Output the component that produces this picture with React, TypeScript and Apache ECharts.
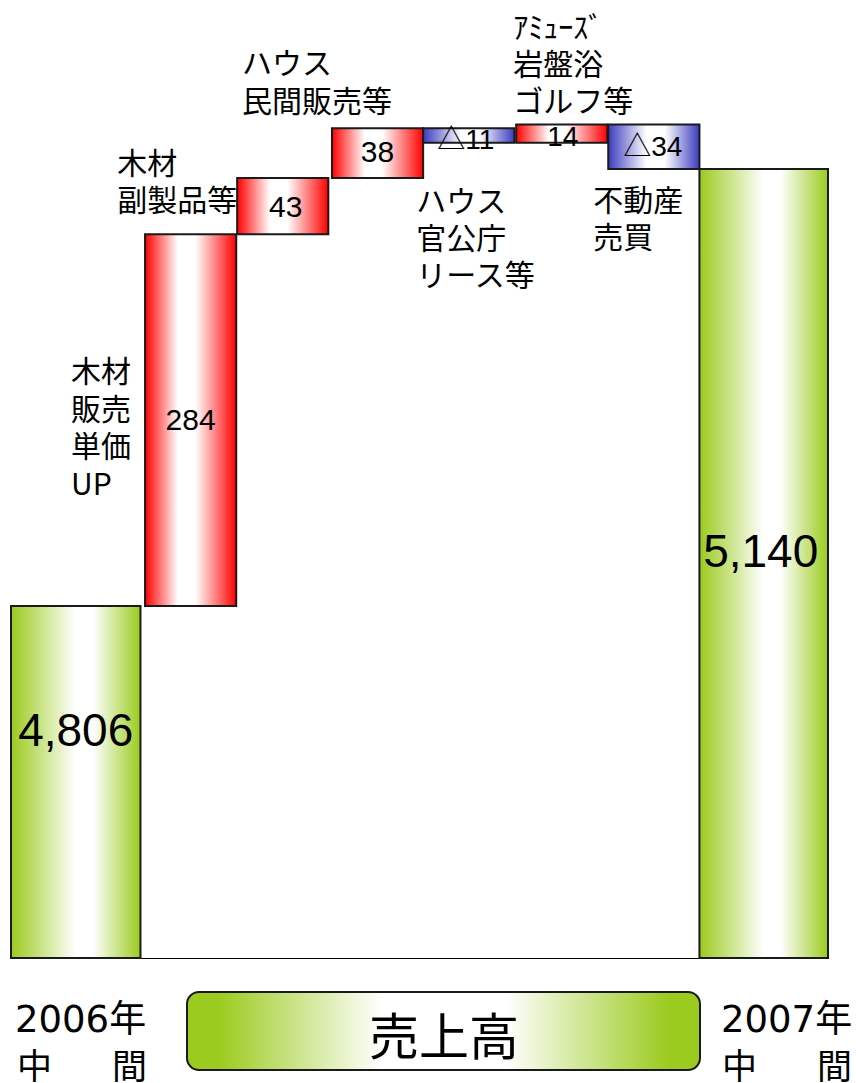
import React, { useEffect, useRef } from 'react';
import * as echarts from 'echarts';

// ---- data ----
const categories = ['2006年中間', '木材販売単価UP', '木材副製品等', 'ハウス民間販売等', 'ハウス官公庁リース等', 'アミューズ岩盤浴ゴルフ等', '不動産売買', '2007年中間'];
const categoryLabels = ['', '木材\n販売\n単価\nUP', '木材\n副製品等', 'ハウス\n民間販売等', 'ハウス\n官公庁\nリース等', 'ｱﾐｭｰｽﾞ\n岩盤浴\nゴルフ等', '不動産\n売買', ''];
const kinds = ['total', 'up', 'up', 'up', 'down', 'up', 'down', 'total'];
const amounts = [4806, 284, 43, 38, -11, 14, -34, 5140];
const valueLabels = ['4,806', '284', '43', '38', '△11', '14', '△34', '5,140'];
const yearLabels = ['2006年', '2007年'];
const periodChars = ['中', '間'];
const axisTitle = '売上高';

const Y_MIN = 4537;
const Y_MAX = 5237;

// ---- layout / style constants ----
const SLOT_WIDTH = [1.42, 1, 1, 1, 1, 1, 1, 1.41];
const SLOT_GAP = [0, 0.05, 0.01, 0.04, 0, 0.02, 0.01, 0];
const VALUE_DY = [-52, -1, 0, -2, 4, 2.5, 0, -12];
const VALUE_DX = [0, 0, 3, 0, -3, 1, -1, -3];
const VALUE_FS = [46, 30, 30, 30, 28, 28, 28, 46];
// category label: anchor, dx from bar left, dy from anchor, line height
const CAT_POS: [string, number, number, number][] = [
  ['mid', 0, 0, 37],
  ['mid', -74, 5.5, 37.5],
  ['top', -120, 1, 37],
  ['top', -90, -48, 38],
  ['bottom', -7, 93, 37],
  ['top', -3, -62, 37],
  ['bottom', -15, 48, 37],
  ['mid', 0, 0, 37],
];

const GREEN = '#9BCB1E';
const RED = '#FF0000';
const BLUE = '#3C3CC0';
const CJK = '"Noto Sans CJK JP", sans-serif';
const NUM = '"Liberation Sans", "Noto Sans CJK JP", sans-serif';
const YEAR = '"DejaVu Sans", "Noto Sans CJK JP", sans-serif';

function grad(color: string, a: number, b: number) {
  return new echarts.graphic.LinearGradient(0, 0, 1, 0, [
    { offset: 0, color },
    { offset: a, color: '#ffffff' },
    { offset: b, color: '#ffffff' },
    { offset: 1, color },
  ]);
}

function txt(text: string, x: number, y: number, size: number, family: string, align = 'left') {
  return {
    type: 'text',
    x,
    y,
    style: { text, fill: '#000', fontSize: size, fontFamily: family, align, verticalAlign: 'middle', textAlign: align, textVerticalAlign: 'middle' },
  };
}

export default function App() {
  const ref = useRef<HTMLDivElement>(null);
  useEffect(() => {
    const chart = echarts.init(ref.current!, null, { renderer: 'svg' });

    // cumulative spans
    let running = 0;
    const spans = amounts.map((a, i) => {
      if (kinds[i] === 'total') {
        running = a;
        return [i, Y_MIN, a];
      }
      const from = running;
      running += a;
      return [i, Math.min(from, running), Math.max(from, running)];
    });

    const slots: [number, number][] = [];
    let cur = 0;
    SLOT_WIDTH.forEach((w, i) => {
      cur += SLOT_GAP[i];
      slots.push([cur, cur + w]);
      cur += w;
    });
    const xMax = cur;

    const option: any = {
      animation: false,
      backgroundColor: '#ffffff',
      grid: { left: 11, right: 28, top: 42, bottom: 125, containLabel: false },
      xAxis: {
        type: 'value',
        min: 0,
        max: xMax,
        axisLine: { show: true, onZero: false, lineStyle: { color: '#000', width: 1 } },
        axisTick: { show: false },
        axisLabel: { show: false },
        splitLine: { show: false },
      },
      yAxis: {
        type: 'value',
        min: Y_MIN,
        max: Y_MAX,
        show: false,
        splitLine: { show: false },
      },
      series: [
        {
          type: 'custom',
          name: '売上高',
          data: spans,
          clip: false,
          renderItem: (params: any, api: any) => {
            const i = params.dataIndex;
            const lo = api.value(1);
            const hi = api.value(2);
            const [xa, xb] = slots[i];
            const p0 = api.coord([xa, hi]);
            const p1 = api.coord([xb, lo]);
            const left = p0[0];
            const top = p0[1];
            const right = p1[0];
            const bottom = p1[1];
            const kind = kinds[i];
            const fill =
              kind === 'total' ? grad(GREEN, 0.5, 0.63) : kind === 'up' ? grad(RED, 0.36, 0.55) : grad(BLUE, 0.42, 0.62);
            const cx = (left + right) / 2;
            const cy = (top + bottom) / 2;
            const children: any[] = [
              {
                type: 'rect',
                shape: { x: left, y: top, width: right - left, height: bottom - top },
                style: { fill, stroke: '#1a1a1a', lineWidth: 2 },
              },
              txt(valueLabels[i], cx + VALUE_DX[i], cy + VALUE_DY[i], VALUE_FS[i], NUM, 'center'),
            ];
            if (categoryLabels[i]) {
              const [anchor, dx, dy, lh] = CAT_POS[i];
              const ay = anchor === 'top' ? top : anchor === 'bottom' ? bottom : cy;
              children.push({
                type: 'text',
                x: left + dx,
                y: ay + dy,
                style: {
                  text: categoryLabels[i],
                  fill: '#000',
                  fontSize: 30,
                  fontFamily: CJK,
                  lineHeight: lh,
                  align: 'left',
                  verticalAlign: 'middle',
                  textAlign: 'left',
                  textVerticalAlign: 'middle',
                },
              });
            }
            return { type: 'group', children };
          },
        },
      ],
      graphic: [
        {
          type: 'rect',
          shape: { x: 187, y: 992, width: 513, height: 78, r: 12 },
          style: {
            fill: new echarts.graphic.LinearGradient(0, 0, 1, 0, [
              { offset: 0, color: GREEN },
              { offset: 0.06, color: GREEN },
              { offset: 0.38, color: '#ffffff' },
              { offset: 0.62, color: '#ffffff' },
              { offset: 0.94, color: GREEN },
              { offset: 1, color: GREEN },
            ]),
            stroke: '#1a1a1a',
            lineWidth: 2,
          },
        },
        txt(axisTitle, 444, 1033, 50, CJK, 'center'),
        txt(yearLabels[0], 15, 1019, 37, YEAR),
        txt(yearLabels[1], 721, 1019, 37, YEAR),
        txt(periodChars[0], 17, 1063, 35, CJK),
        txt(periodChars[1], 112, 1063, 35, CJK),
        txt(periodChars[0], 722, 1063, 35, CJK),
        txt(periodChars[1], 817, 1063, 35, CJK),
      ],
    };
    chart.setOption(option);
    return () => chart.dispose();
  }, []);
  return (
    <div
      ref={ref}
      aria-label={categories.join(' / ')}
      style={{ position: 'absolute', left: 0, top: 0, width: 856, height: 1083, background: '#fff' }}
    />
  );
}
